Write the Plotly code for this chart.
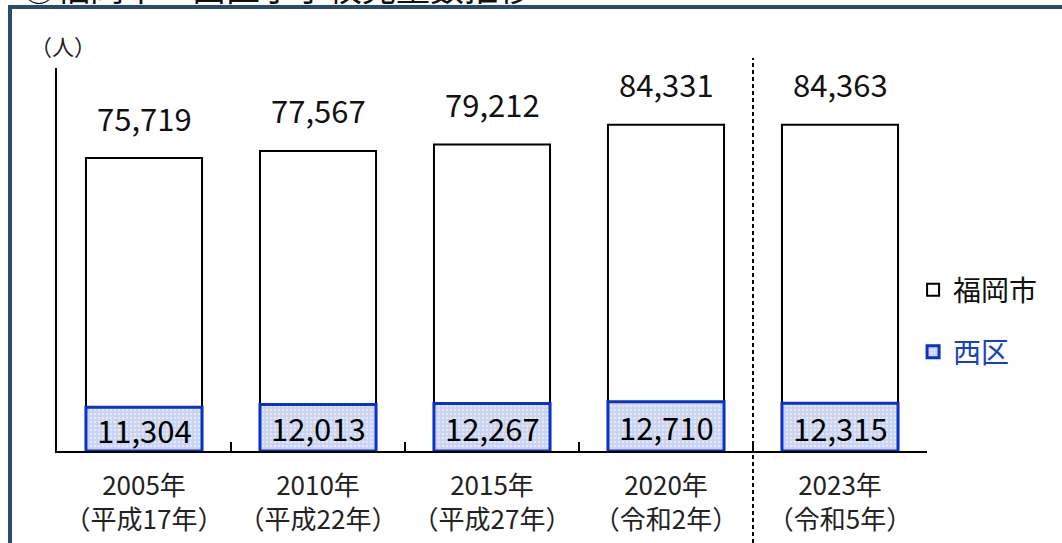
import plotly.graph_objects as go

years = ["2005年<br>（平成17年）", "2010年<br>（平成22年）", "2015年<br>（平成27年）",
         "2020年<br>（令和2年）", "2023年<br>（令和5年）"]
fukuoka = [75719, 77567, 79212, 84331, 84363]
nishi = [11304, 12013, 12267, 12710, 12315]

FONT = "Noto Sans CJK JP"

# pixel -> paper helpers (plot area: x 57..927, y 68..451)
def px_x(px):
    return (px - 57) / 870

def px_y(py):
    return (451 - py) / 383

fig = go.Figure()
fig.add_trace(go.Bar(
    x=years, y=fukuoka, name="福岡市", width=0.667,
    marker=dict(color="white", line=dict(color="black", width=2)),
    legend="legend",
))
fig.add_trace(go.Bar(
    x=years, y=nishi, name="西区", width=0.667,
    marker=dict(color="#c9d3f1", line=dict(color="#0a32c8", width=3),
                pattern=dict(shape=".", fgcolor="white", bgcolor="#c9d3f1",
                             size=4, solidity=0.35)),
    legend="legend2",
))

# totals above the city bars
for x, v in zip(years, fukuoka):
    fig.add_annotation(x=x, y=v, text=f"{v:,}", showarrow=False, yanchor="middle",
                       yshift=41, font=dict(size=31, color="#111", family=FONT))

# ward values centred in the blue bars
for x, v in zip(years, nishi):
    fig.add_annotation(x=x, y=v / 2, text=f"{v:,}", showarrow=False, yanchor="middle",
                       font=dict(size=31, color="black", family=FONT))

# unit label
fig.add_annotation(x=px_x(63), y=px_y(45), xref="paper", yref="paper", text="（人）",
                   showarrow=False, xanchor="center", yanchor="middle",
                   font=dict(size=22, color="#222", family=FONT))

# title, mostly cut off at the top edge
fig.add_annotation(x=px_x(20), y=px_y(-14), xref="paper", yref="paper",
                   text="③福岡市・西区小学校児童数推移", showarrow=False,
                   xanchor="left", yanchor="middle",
                   font=dict(size=34, color="#111", family=FONT))

# dashed separator before 2023
fig.add_shape(type="line", x0=3.5, x1=3.5, xref="x", y0=px_y(543), y1=px_y(58), yref="paper",
              line=dict(color="black", width=2, dash="4px,3px"))

# frame border (left and top)
fig.add_shape(type="line", xref="paper", yref="paper", x0=px_x(10), x1=px_x(10),
              y0=px_y(560), y1=px_y(7), line=dict(color="#2b4a6f", width=4))
fig.add_shape(type="line", xref="paper", yref="paper", x0=px_x(8), x1=px_x(1080),
              y0=px_y(7), y1=px_y(7), line=dict(color="#2b4a6f", width=4))

fig.update_layout(
    width=1062, height=543,
    margin=dict(l=57, r=135, t=68, b=92),
    paper_bgcolor="white", plot_bgcolor="white",
    barmode="overlay",
    showlegend=True,
    font=dict(family=FONT, color="#222"),
    legend=dict(x=0.984, y=px_y(290), xanchor="left", yanchor="middle",
                font=dict(size=28, color="#111", family=FONT), bgcolor="rgba(0,0,0,0)"),
    legend2=dict(x=0.984, y=px_y(352), xanchor="left", yanchor="middle",
                 font=dict(size=28, color="#1a3fc4", family=FONT), bgcolor="rgba(0,0,0,0)"),
)
fig.update_xaxes(
    type="category", range=[-0.5, 4.5], automargin=False,
    showline=True, linecolor="black", linewidth=2,
    ticks="inside", tickson="boundaries", ticklen=9, tickcolor="black", tickwidth=2,
    tickfont=dict(size=26, color="#222", family=FONT), ticklabelstandoff=11,
    showgrid=False, zeroline=False,
)
fig.update_yaxes(
    range=[0, 99000], showline=True, linecolor="black", linewidth=2, automargin=False,
    showticklabels=False, ticks="", showgrid=False, zeroline=False,
)

fig.write_html("out.html", config={"displayModeBar": False},
               post_script="document.body.style.margin='0';")
